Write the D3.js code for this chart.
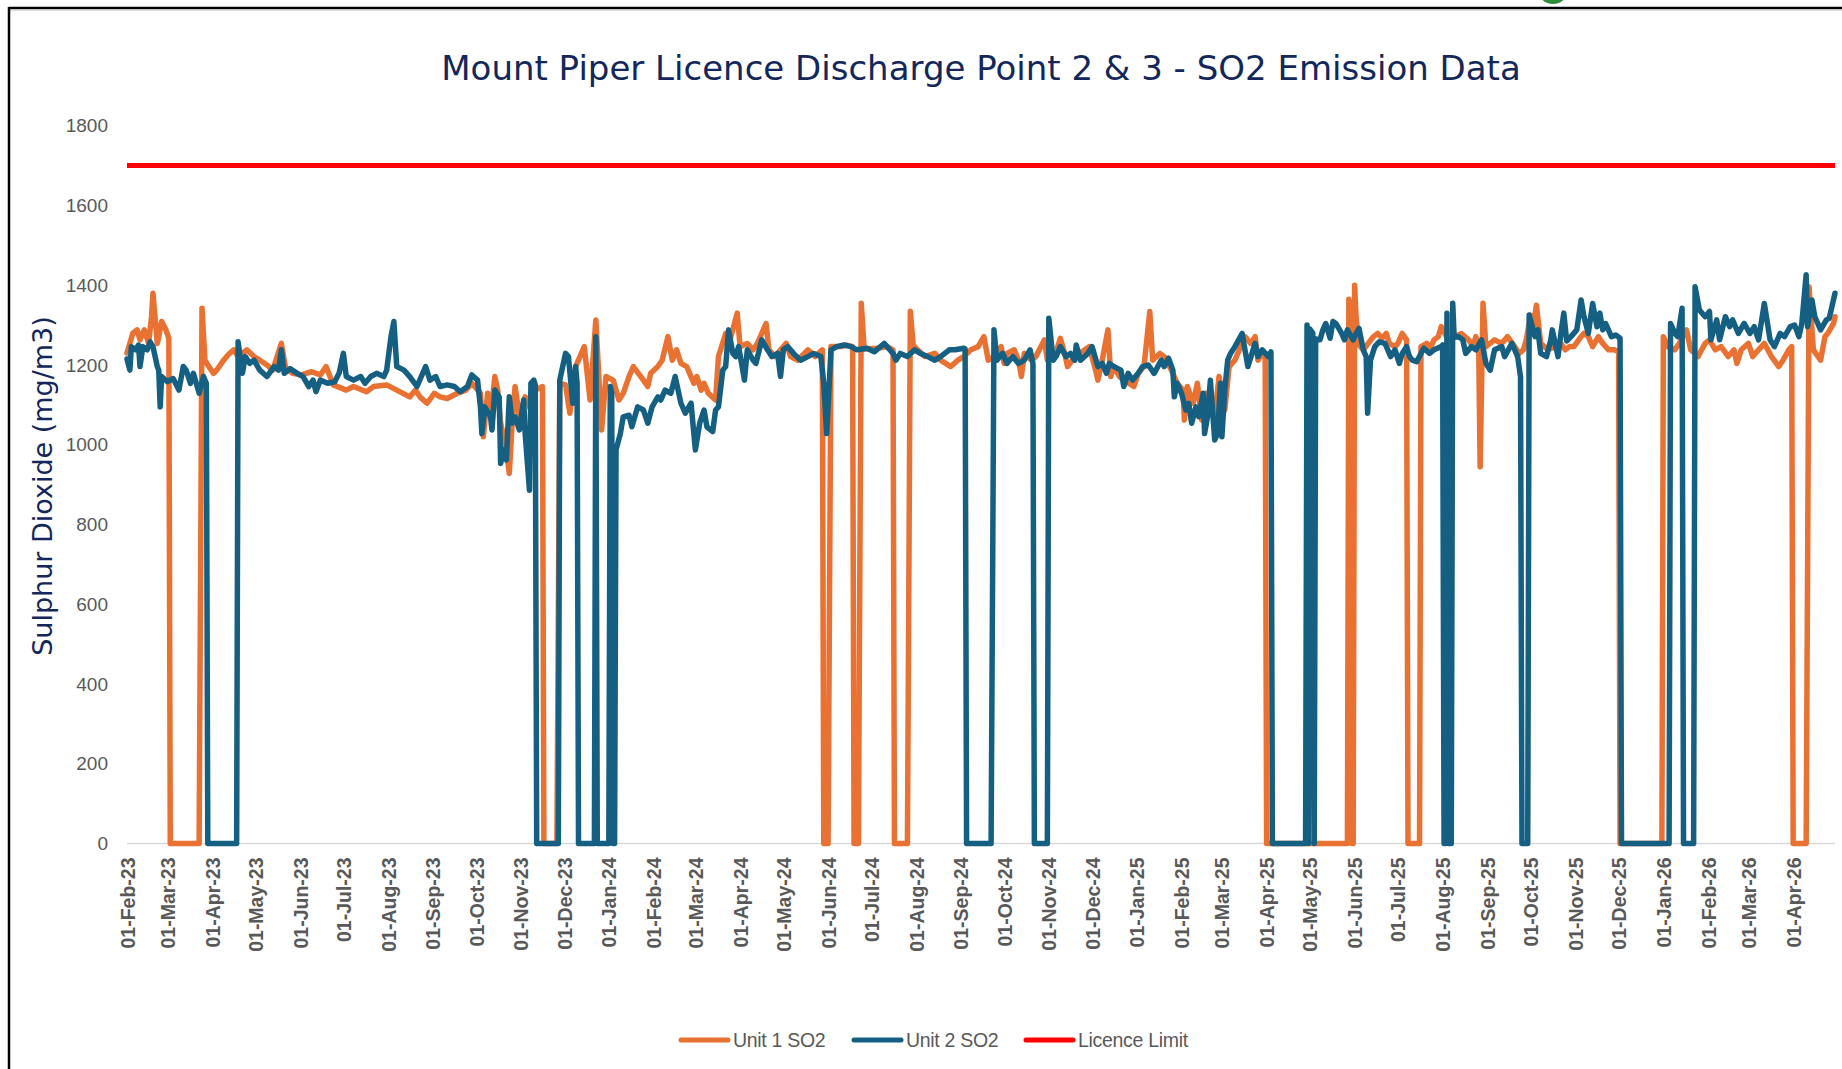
<!DOCTYPE html>
<html><head><meta charset="utf-8">
<script src="https://cdn.jsdelivr.net/npm/d3@7"></script>
<style>html,body{margin:0;padding:0;background:#fff}svg{display:block}</style>
</head><body><svg id="c" width="1842" height="1069"></svg>
<script>
const chartTitle = "Mount Piper Licence Discharge Point 2 & 3 - SO2 Emission Data";
const yTitle = "Sulphur Dioxide (mg/m3)";
const seriesNames = ["Unit 1 SO2", "Unit 2 SO2", "Licence Limit"];
const yTicks = [0, 200, 400, 600, 800, 1000, 1200, 1400, 1600, 1800];
const dateRange = ["2023-02-01", "2026-04-30"];
const licenceLimit = 1700;

const unit1 = [
["2023-02-01",1230],["2023-02-05",1279],["2023-02-08",1288],["2023-02-10",1263],["2023-02-13",1288],["2023-02-16",1254],["2023-02-18",1321],["2023-02-19",1380],["2023-02-22",1254],["2023-02-23",1271],["2023-02-25",1309],["2023-02-28",1288],["2023-03-02",1267],["2023-03-03",0],["2023-03-23",0],["2023-03-25",1342],["2023-03-27",1212],["2023-03-29",1200],
["2023-04-02",1179],["2023-04-05",1191],["2023-04-09",1212],["2023-04-12",1225],["2023-04-16",1238],["2023-04-19",1221],["2023-04-25",1238],["2023-04-30",1221],["2023-05-04",1212],["2023-05-09",1200],["2023-05-13",1187],["2023-05-19",1254],["2023-05-22",1191],["2023-05-27",1179],["2023-06-02",1175],["2023-06-09",1183],["2023-06-15",1175],["2023-06-19",1196],["2023-06-24",1150],
["2023-07-03",1137],["2023-07-08",1146],["2023-07-17",1133],["2023-07-22",1146],["2023-07-31",1150],["2023-08-07",1137],["2023-08-16",1120],["2023-08-20",1137],["2023-08-23",1120],["2023-08-28",1104],["2023-09-02",1129],["2023-09-06",1120],["2023-09-11",1116],["2023-09-18",1129],["2023-09-24",1137],["2023-09-28",1154],
["2023-10-04",1129],["2023-10-06",1020],["2023-10-09",1129],["2023-10-11",1070],["2023-10-14",1171],["2023-10-16",1137],["2023-10-18",1054],["2023-10-22",987],["2023-10-24",928],["2023-10-26",1054],["2023-10-28",1146],["2023-10-31",1070],["2023-11-04",1120],["2023-11-08",1087],["2023-11-11",1137],["2023-11-16",1146],["2023-11-17",0],["2023-11-26",0],["2023-11-28",1154],
["2023-12-02",1150],["2023-12-05",1079],["2023-12-09",1196],["2023-12-15",1246],["2023-12-19",1112],["2023-12-23",1313],["2023-12-27",1037],["2023-12-30",1171],["2024-01-04",1162],["2024-01-08",1112],["2024-01-11",1129],["2024-01-15",1171],["2024-01-18",1196],["2024-01-25",1162],["2024-01-28",1146],["2024-01-30",1179],
["2024-02-04",1196],["2024-02-07",1212],["2024-02-11",1271],["2024-02-14",1212],["2024-02-17",1238],["2024-02-20",1204],["2024-02-24",1196],["2024-02-29",1154],["2024-03-02",1171],["2024-03-05",1137],["2024-03-07",1154],["2024-03-10",1129],["2024-03-15",1112],["2024-03-17",1221],["2024-03-22",1279],["2024-03-25",1263],["2024-03-30",1330],
["2024-04-01",1246],["2024-04-06",1254],["2024-04-10",1238],["2024-04-13",1254],["2024-04-19",1304],["2024-04-21",1238],["2024-04-25",1221],["2024-05-03",1254],["2024-05-06",1221],["2024-05-11",1212],["2024-05-18",1238],["2024-05-23",1221],["2024-05-28",1238],["2024-05-29",0],["2024-06-01",0],["2024-06-03",1246],["2024-06-10",1246],["2024-06-14",1250],["2024-06-18",1246],["2024-06-19",0],["2024-06-22",0],["2024-06-24",1355],["2024-06-26",1240],
["2024-07-05",1242],["2024-07-12",1246],["2024-07-16",1238],["2024-07-17",0],["2024-07-26",0],["2024-07-28",1335],["2024-07-30",1250],["2024-08-02",1238],["2024-08-07",1221],["2024-08-14",1229],["2024-08-18",1212],["2024-08-25",1196],["2024-08-30",1212],["2024-09-03",1221],["2024-09-08",1238],["2024-09-13",1246],["2024-09-17",1271],["2024-09-20",1212],["2024-09-24",1221],["2024-09-29",1246],
["2024-10-01",1204],["2024-10-03",1229],["2024-10-08",1238],["2024-10-11",1212],["2024-10-13",1171],["2024-10-15",1229],["2024-10-20",1212],["2024-10-23",1221],["2024-10-29",1263],["2024-10-31",1212],["2024-11-05",1221],["2024-11-09",1267],["2024-11-12",1229],["2024-11-14",1196],["2024-11-19",1221],["2024-11-26",1238],["2024-11-29",1246],
["2024-12-04",1179],["2024-12-05",1162],["2024-12-08",1212],["2024-12-12",1288],["2024-12-14",1171],["2024-12-16",1196],["2024-12-20",1171],["2024-12-23",1162],["2024-12-30",1146],["2025-01-02",1179],["2025-01-06",1196],["2025-01-10",1334],["2025-01-12",1212],["2025-01-17",1229],["2025-01-20",1221],["2025-01-25",1187],["2025-01-29",1154],
["2025-02-02",1137],["2025-02-03",1062],["2025-02-05",1146],["2025-02-09",1104],["2025-02-12",1154],["2025-02-15",1062],["2025-02-18",1129],["2025-02-22",1087],["2025-02-24",1070],["2025-02-27",1171],["2025-03-03",1087],["2025-03-06",1196],["2025-03-10",1212],["2025-03-17",1271],["2025-03-21",1254],["2025-03-24",1271],["2025-03-26",1212],["2025-03-29",1229],["2025-03-31",1229],["2025-04-01",0],
["2025-05-27",0],["2025-05-28",1365],["2025-05-29",1340],["2025-05-30",0],["2025-05-31",0],["2025-06-01",1400],["2025-06-02",1320],["2025-06-04",1250],["2025-06-07",1238],["2025-06-14",1271],["2025-06-17",1279],["2025-06-20",1267],["2025-06-23",1279],["2025-06-25",1254],["2025-06-29",1246],
["2025-07-01",1254],["2025-07-04",1279],["2025-07-07",1263],["2025-07-08",0],["2025-07-16",0],["2025-07-17",1246],["2025-07-21",1254],["2025-07-23",1238],["2025-07-26",1263],["2025-07-29",1271],["2025-07-31",1296],["2025-08-05",1263],["2025-08-09",1271],["2025-08-14",1279],["2025-08-19",1263],["2025-08-22",1246],["2025-08-24",1271],["2025-08-26",1250],["2025-08-27",945],["2025-08-29",1355],["2025-08-31",1246],
["2025-09-06",1263],["2025-09-11",1254],["2025-09-15",1271],["2025-09-20",1246],["2025-09-23",1229],["2025-09-26",1238],["2025-09-28",1263],["2025-10-01",1325],["2025-10-03",1296],["2025-10-05",1350],["2025-10-08",1254],["2025-10-13",1238],["2025-10-18",1246],["2025-10-22",1254],["2025-10-25",1238],["2025-10-28",1246],["2025-10-31",1246],
["2025-11-05",1271],["2025-11-07",1279],["2025-11-10",1271],["2025-11-13",1246],["2025-11-17",1271],["2025-11-20",1254],["2025-11-24",1238],["2025-11-28",1238],["2025-12-01",1233],["2025-12-02",0],["2025-12-31",0],
["2026-01-01",1271],["2026-01-04",1246],["2026-01-09",1238],["2026-01-12",1254],["2026-01-17",1288],["2026-01-20",1238],["2026-01-23",1229],["2026-01-25",1221],["2026-01-30",1254],["2026-02-02",1263],["2026-02-06",1238],["2026-02-10",1246],["2026-02-15",1221],["2026-02-19",1238],["2026-02-21",1204],["2026-02-24",1238],
["2026-03-01",1254],["2026-03-04",1221],["2026-03-08",1238],["2026-03-12",1254],["2026-03-17",1221],["2026-03-22",1196],["2026-03-25",1212],["2026-03-29",1238],["2026-03-31",1246],["2026-04-01",0],["2026-04-10",0],["2026-04-12",1396],["2026-04-15",1238],["2026-04-20",1212],["2026-04-23",1271],["2026-04-25",1279],["2026-04-29",1304],["2026-04-30",1321]
];

const unit2 = [
["2023-02-01",1215],["2023-02-03",1187],["2023-02-04",1246],["2023-02-07",1238],["2023-02-09",1250],["2023-02-10",1196],["2023-02-12",1246],["2023-02-15",1238],["2023-02-17",1258],["2023-02-19",1246],["2023-02-22",1196],["2023-02-23",1187],["2023-02-24",1095],["2023-02-25",1171],["2023-03-01",1158],["2023-03-05",1166],["2023-03-09",1137],["2023-03-12",1196],["2023-03-14",1187],["2023-03-17",1154],["2023-03-19",1179],["2023-03-23",1129],["2023-03-26",1171],["2023-03-28",1154],["2023-03-29",0],
["2023-04-18",0],["2023-04-19",1258],["2023-04-22",1179],["2023-04-24",1221],["2023-04-27",1204],["2023-04-30",1212],["2023-05-04",1187],["2023-05-09",1171],["2023-05-14",1196],["2023-05-17",1187],["2023-05-19",1238],["2023-05-21",1179],["2023-05-25",1191],["2023-05-30",1179],["2023-06-03",1171],["2023-06-07",1146],["2023-06-10",1162],["2023-06-12",1133],["2023-06-15",1162],["2023-06-20",1154],["2023-06-25",1158],["2023-06-28",1179],
["2023-07-01",1229],["2023-07-03",1171],["2023-07-08",1162],["2023-07-13",1171],["2023-07-16",1154],["2023-07-20",1171],["2023-07-24",1179],["2023-07-29",1171],["2023-07-31",1187],["2023-08-03",1271],["2023-08-05",1309],["2023-08-07",1196],["2023-08-12",1187],["2023-08-16",1171],["2023-08-21",1146],["2023-08-27",1196],["2023-08-30",1162],
["2023-09-03",1171],["2023-09-06",1146],["2023-09-11",1150],["2023-09-16",1146],["2023-09-20",1133],["2023-09-25",1146],["2023-09-28",1175],["2023-10-02",1162],["2023-10-04",1095],["2023-10-05",1028],["2023-10-07",1095],["2023-10-11",1070],["2023-10-12",1037],["2023-10-14",1137],["2023-10-17",1120],["2023-10-18",953],["2023-10-20",987],["2023-10-22",962],["2023-10-24",1120],["2023-10-26",1054],["2023-10-28",1070],["2023-10-31",1037],
["2023-11-03",1112],["2023-11-04",1028],["2023-11-07",886],["2023-11-08",1154],["2023-11-10",1162],["2023-11-11",1150],["2023-11-12",0],["2023-11-27",0],["2023-11-28",1162],["2023-12-02",1229],["2023-12-04",1221],["2023-12-07",1104],["2023-12-09",1196],["2023-12-10",1154],["2023-12-11",0],["2023-12-22",0],["2023-12-23",1271],["2023-12-24",0],
["2024-01-01",0],["2024-01-02",1146],["2024-01-03",1130],["2024-01-04",0],["2024-01-05",0],["2024-01-06",987],["2024-01-09",1028],["2024-01-11",1070],["2024-01-15",1074],["2024-01-17",1045],["2024-01-21",1095],["2024-01-25",1087],["2024-01-28",1054],["2024-01-31",1095],
["2024-02-04",1120],["2024-02-06",1112],["2024-02-09",1137],["2024-02-13",1129],["2024-02-16",1171],["2024-02-20",1104],["2024-02-23",1079],["2024-02-27",1104],["2024-03-01",987],["2024-03-04",1054],["2024-03-07",1087],["2024-03-09",1045],["2024-03-13",1033],["2024-03-15",1087],["2024-03-17",1095],["2024-03-20",1187],["2024-03-22",1196],["2024-03-24",1288],["2024-03-27",1229],["2024-03-29",1221],["2024-03-31",1246],
["2024-04-04",1162],["2024-04-06",1238],["2024-04-10",1212],["2024-04-12",1204],["2024-04-16",1263],["2024-04-20",1238],["2024-04-23",1221],["2024-04-27",1229],["2024-04-29",1171],["2024-05-01",1238],["2024-05-04",1246],["2024-05-08",1229],["2024-05-13",1212],["2024-05-18",1221],["2024-05-22",1229],["2024-05-27",1221],["2024-05-29",1154],["2024-05-31",1028],
["2024-06-03",1238],["2024-06-07",1246],["2024-06-12",1250],["2024-06-17",1246],["2024-06-21",1238],["2024-06-28",1242],["2024-07-03",1233],["2024-07-10",1254],["2024-07-16",1229],["2024-07-18",1212],["2024-07-21",1229],["2024-07-26",1221],["2024-07-31",1238],["2024-08-04",1229],["2024-08-09",1221],["2024-08-14",1212],["2024-08-18",1221],["2024-08-24",1238],["2024-08-28",1238],
["2024-09-03",1242],["2024-09-04",1240],["2024-09-05",0],["2024-09-22",0],["2024-09-24",1288],["2024-09-26",1212],["2024-09-30",1229],["2024-10-03",1204],["2024-10-07",1221],["2024-10-11",1204],["2024-10-15",1212],["2024-10-19",1238],["2024-10-21",1204],["2024-10-22",0],["2024-10-31",0],
["2024-11-01",1317],["2024-11-04",1212],["2024-11-06",1221],["2024-11-09",1246],["2024-11-13",1221],["2024-11-16",1229],["2024-11-19",1212],["2024-11-20",1250],["2024-11-23",1212],["2024-11-28",1229],["2024-12-01",1246],["2024-12-05",1196],["2024-12-08",1204],["2024-12-11",1179],["2024-12-13",1204],["2024-12-16",1196],["2024-12-21",1187],["2024-12-23",1146],["2024-12-26",1179],["2024-12-29",1162],
["2025-01-02",1179],["2025-01-05",1196],["2025-01-09",1200],["2025-01-13",1179],["2025-01-18",1212],["2025-01-20",1196],["2025-01-23",1217],["2025-01-26",1187],["2025-01-27",1120],["2025-01-29",1154],["2025-02-01",1129],["2025-02-04",1087],["2025-02-06",1104],["2025-02-08",1054],["2025-02-11",1095],["2025-02-13",1070],["2025-02-16",1129],["2025-02-17",1028],["2025-02-19",1070],["2025-02-21",1162],["2025-02-24",1012],["2025-02-26",1028],["2025-02-28",1154],
["2025-03-01",1020],["2025-03-03",1137],["2025-03-05",1212],["2025-03-07",1229],["2025-03-10",1246],["2025-03-15",1279],["2025-03-19",1196],["2025-03-24",1254],["2025-03-26",1221],["2025-03-29",1238],["2025-04-02",1221],["2025-04-04",1233],["2025-04-05",0],["2025-04-28",0],["2025-04-29",1300],["2025-04-30",0],
["2025-05-01",1290],["2025-05-03",1280],["2025-05-04",0],["2025-05-05",1265],["2025-05-08",1263],["2025-05-10",1288],["2025-05-12",1304],["2025-05-15",1267],["2025-05-17",1309],["2025-05-19",1304],["2025-05-23",1279],["2025-05-25",1263],["2025-05-27",1288],["2025-05-31",1263],
["2025-06-02",1279],["2025-06-04",1292],["2025-06-07",1238],["2025-06-09",1221],["2025-06-10",1079],["2025-06-12",1212],["2025-06-15",1246],["2025-06-18",1258],["2025-06-22",1254],["2025-06-24",1238],["2025-06-26",1221],["2025-06-29",1238],["2025-07-02",1204],["2025-07-04",1229],["2025-07-07",1246],["2025-07-09",1221],["2025-07-11",1212],["2025-07-14",1208],["2025-07-17",1229],["2025-07-19",1242],["2025-07-23",1229],["2025-07-26",1238],["2025-07-31",1246],
["2025-08-01",1250],["2025-08-02",0],["2025-08-03",0],["2025-08-04",1330],["2025-08-05",0],["2025-08-07",0],["2025-08-08",1355],["2025-08-09",1270],["2025-08-12",1271],["2025-08-15",1263],["2025-08-17",1229],["2025-08-21",1246],["2025-08-24",1238],["2025-08-28",1263],["2025-08-31",1204],
["2025-09-03",1187],["2025-09-06",1238],["2025-09-11",1246],["2025-09-13",1221],["2025-09-18",1254],["2025-09-20",1238],["2025-09-22",1221],["2025-09-24",1171],["2025-09-25",0],["2025-09-29",0],["2025-09-30",1325],["2025-10-04",1271],["2025-10-06",1288],["2025-10-08",1229],["2025-10-12",1221],["2025-10-15",1263],["2025-10-16",1288],["2025-10-20",1221],["2025-10-22",1279],["2025-10-24",1330],["2025-10-26",1260],["2025-10-29",1271],
["2025-11-02",1288],["2025-11-05",1363],["2025-11-07",1321],["2025-11-10",1279],["2025-11-13",1354],["2025-11-16",1296],["2025-11-18",1330],["2025-11-20",1288],["2025-11-22",1304],["2025-11-26",1271],["2025-11-29",1275],["2025-12-02",1267],["2025-12-03",0],
["2026-01-05",0],["2026-01-06",1304],["2026-01-09",1279],["2026-01-11",1271],["2026-01-14",1342],["2026-01-15",0],["2026-01-22",0],["2026-01-23",1396],["2026-01-26",1338],["2026-01-30",1321],["2026-02-02",1334],["2026-02-03",1263],["2026-02-07",1313],["2026-02-09",1263],["2026-02-13",1321],["2026-02-16",1296],["2026-02-18",1313],["2026-02-22",1279],["2026-02-26",1304],
["2026-03-02",1279],["2026-03-05",1296],["2026-03-08",1263],["2026-03-12",1354],["2026-03-16",1263],["2026-03-19",1246],["2026-03-23",1279],["2026-03-26",1271],["2026-03-30",1296],["2026-04-02",1300],["2026-04-05",1271],["2026-04-07",1304],["2026-04-10",1426],["2026-04-11",1296],["2026-04-14",1363],["2026-04-16",1321],["2026-04-20",1288],["2026-04-24",1313],["2026-04-26",1317],["2026-04-30",1380]
];

const parse = d3.timeParse("%Y-%m-%d");
const svg = d3.select("#c");
svg.append("rect").attr("width",1842).attr("height",1069).attr("fill","#fff");

// frame
svg.append("ellipse").attr("cx",1553).attr("cy",-10).attr("rx",15).attr("ry",14).attr("fill","#2E8B3A");
svg.append("line").attr("x1",9).attr("x2",1842).attr("y1",8).attr("y2",8).attr("stroke","#000").attr("stroke-width",2.5);
svg.append("line").attr("x1",9).attr("x2",1842).attr("y1",10).attr("y2",10).attr("stroke","#bdbdbd").attr("stroke-width",1);
svg.append("line").attr("x1",9).attr("x2",9).attr("y1",7).attr("y2",1069).attr("stroke","#000").attr("stroke-width",2.5);

const x = d3.scaleTime().domain(dateRange.map(parse)).range([127, 1835]);
const y = d3.scaleLinear().domain([0, 1800]).range([843.5, 125.7]);

const textGray = "#595959";
const navy = "#13275A";

// title
svg.append("text").attr("x",981).attr("y",80).attr("text-anchor","middle")
  .attr("font-family","'DejaVu Sans', Verdana, sans-serif").attr("font-size",34)
  .attr("fill",navy).text(chartTitle);

// y title
svg.append("text").attr("transform","translate(42,486) rotate(-90)")
  .attr("text-anchor","middle").attr("dominant-baseline","central")
  .attr("font-family","'DejaVu Sans', Verdana, sans-serif").attr("font-size",27)
  .attr("fill",navy).text(yTitle);

// y axis
const yAxis = svg.append("g").attr("transform","translate(127,0)")
  .call(d3.axisLeft(y).tickValues(yTicks).tickSize(0).tickPadding(19).tickFormat(d3.format("d")));
yAxis.select(".domain").remove();
yAxis.selectAll("text").attr("font-family","'Liberation Sans', Arial, sans-serif")
  .attr("font-size",19).attr("fill",textGray);

// baseline
svg.append("line").attr("x1",127).attr("x2",1835).attr("y1",y(0)).attr("y2",y(0))
  .attr("stroke","#d9d9d9").attr("stroke-width",1.6);

// x axis
const months = d3.timeMonth.range(parse("2023-02-01"), d3.timeDay.offset(parse(dateRange[1]),1));
const xAxis = svg.append("g").attr("transform",`translate(0,${y(0)})`)
  .call(d3.axisBottom(x).tickValues(months).tickSize(0).tickFormat(d3.timeFormat("%d-%b-%y")));
xAxis.select(".domain").remove();
xAxis.selectAll("text")
  .attr("transform","rotate(-90)").attr("text-anchor","end")
  .attr("x",-14).attr("y",0).attr("dy","0.36em")
  .attr("font-family","'Liberation Sans', Arial, sans-serif").attr("font-size",19.5)
  .attr("font-weight","bold").attr("fill",textGray);

// lines
const line = d3.line().x(d => x(parse(d[0]))).y(d => y(d[1]));
const colors = ["#E97132", "#156082", "#FF0000"];
svg.append("path").datum(unit1).attr("d", line).attr("fill","none")
  .attr("stroke",colors[0]).attr("stroke-width",5.5).attr("stroke-linejoin","round").attr("stroke-linecap","round");
svg.append("path").datum(unit2).attr("d", line).attr("fill","none")
  .attr("stroke",colors[1]).attr("stroke-width",5.5).attr("stroke-linejoin","round").attr("stroke-linecap","round");
svg.append("path").datum(dateRange.map(d => [d, licenceLimit])).attr("d", line).attr("fill","none")
  .attr("stroke",colors[2]).attr("stroke-width",5);

// legend
const legendX = [681, 854, 1026];
const lg = svg.append("g");
seriesNames.forEach((n,i) => {
  lg.append("line").attr("x1",legendX[i]).attr("x2",legendX[i]+47).attr("y1",1040).attr("y2",1040)
    .attr("stroke",colors[i]).attr("stroke-width",5).attr("stroke-linecap","round");
  lg.append("text").attr("x",legendX[i]+52).attr("y",1040).attr("dominant-baseline","central")
    .attr("font-family","'Liberation Sans', Arial, sans-serif").attr("font-size",19.5)
    .attr("letter-spacing","-0.3").attr("fill",textGray).text(n);
});
</script></body></html>
